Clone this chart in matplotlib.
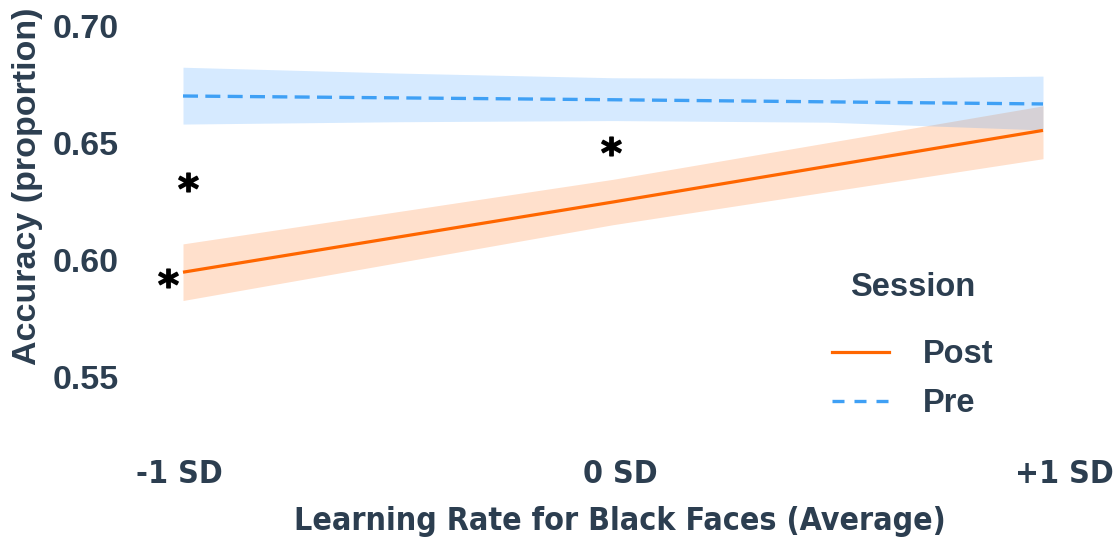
import matplotlib
matplotlib.use("Agg")
import matplotlib.pyplot as plt
from matplotlib.lines import Line2D
from matplotlib.transforms import ScaledTranslation

# Predicted accuracy by learning rate (-1 SD, mean, +1 SD), per session
levels = [-1, 0, 1]
level_labels = ["-1 SD", "0 SD", "+1 SD"]

post_fit = [0.5947, 0.6247, 0.6553]
post_lo = [0.5826, 0.6150, 0.6432]
post_hi = [0.6068, 0.6344, 0.6658]

pre_fit = [0.6700, 0.6684, 0.6666]
band_x = [-1, -0.5, 0, 0.5, 1]
pre_lo = [0.6580, 0.6590, 0.6595, 0.6588, 0.6555]
pre_hi = [0.6823, 0.6798, 0.6778, 0.6774, 0.6785]

y_ticks = [0.55, 0.60, 0.65, 0.70]
y_tick_labels = ["0.55", "0.60", "0.65", "0.70"]

# significance markers
sig_x = [-1.034, -0.988, -0.005]
sig_y = [0.5922, 0.6332, 0.6486]

INK = "#2C3E50"
POST = "#FF6600"
PRE = "#3FA0F5"
PRE_FILL = "#3399FF"

W, H = 1118, 539
fig = plt.figure(figsize=(W / 100, H / 100), dpi=100)
ax = fig.add_axes([130 / W, (H - 420) / H, (1110 - 130) / W, 420 / H])

ax.fill_between(levels, post_lo, post_hi, color=POST, alpha=0.2, lw=0)
ax.fill_between(band_x, pre_lo, pre_hi, color=PRE_FILL, alpha=0.2, lw=0)
ax.plot(levels, post_fit, color=POST, lw=2.3, solid_capstyle="butt")
ax.plot(levels, pre_fit, color=PRE, lw=2.4, ls=(0, (4.5, 2.2)))

ax.plot(sig_x, sig_y, ls="none", marker=r"$\mathbf{*}$", ms=14, color="black")

ax.set_xlim((130 - 613) / 430, (1110 - 613) / 430)
ax.set_ylim(0.70 - (420 - 25.8) / 2340, 0.70 + 25.8 / 2340)

for s in ax.spines.values():
    s.set_visible(False)

narrow = dict(family="DejaVu Sans", stretch="condensed", weight="bold", size=23)
ax.set_xticks(levels)
ax.set_xticklabels(level_labels, color=INK, **narrow)
ax.set_yticks(y_ticks)
ax.set_yticklabels(y_tick_labels, fontsize=24.5, fontweight="bold",
                   family="Liberation Sans", color=INK)
ax.tick_params(axis="x", length=0, pad=28)
ax.tick_params(axis="y", length=0, pad=8)

for lab, dx in zip(ax.get_xticklabels(), [-4, 7, 21]):
    lab.set_transform(lab.get_transform() + ScaledTranslation(dx / 100, 0, fig.dpi_scale_trans))

ax.set_xlabel("Learning Rate for Black Faces (Average)", color=INK, **narrow)
ax.xaxis.set_label_coords(0.5, (420 - 506) / 420)

ax.set_ylabel("Accuracy (proportion)", fontsize=24.5, fontweight="bold",
              family="Liberation Sans", color=INK, va="center", ha="center",
              rotation_mode="anchor")
ax.yaxis.set_label_coords((28 - 130) / 980, (420 - 186.5) / 420)

# legend
fig.text(913 / W, 1 - 288 / H, "Session", fontsize=23.5, fontweight="bold",
         family="Liberation Sans", color=INK, ha="center", va="center")
handles = [Line2D([], [], color=POST, lw=2.3),
           Line2D([], [], color=PRE, lw=2.4, ls=(0, (3.6, 3.0)))]
leg = fig.legend(handles, ["Post", "Pre"], loc="upper left",
                 bbox_to_anchor=(832 / W, 1 - 339 / H), frameon=False,
                 borderpad=0, borderaxespad=0, handlelength=1.75,
                 handletextpad=1.04, labelspacing=0.55,
                 prop={"family": "Liberation Sans", "weight": "bold", "size": 23.5})
for t in leg.get_texts():
    t.set_color(INK)

fig.savefig("out.png", dpi=100)
